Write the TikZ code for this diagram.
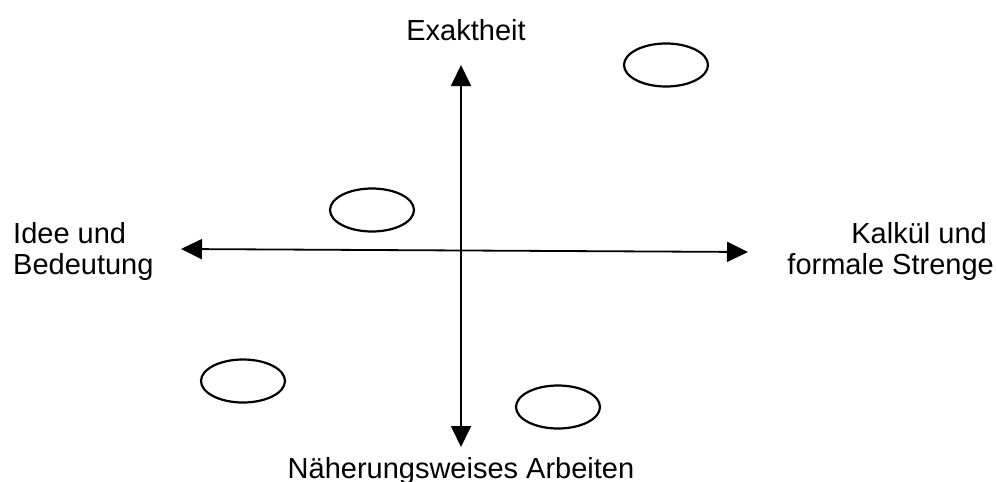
\documentclass[tikz,border=0pt]{standalone}
\usepackage{fontspec}
\setmainfont{Liberation Sans}
\usetikzlibrary{arrows.meta,shapes.geometric}
\begin{document}
\begin{tikzpicture}[x=1pt,y=-1pt,
  axis/.style={line width=1.8pt,{Triangle[length=21pt,width=20pt]}-{Triangle[length=21pt,width=20pt]}},
  oval/.style={draw,ellipse,line width=2.2pt,minimum width=84pt,minimum height=43pt,inner sep=0pt},
  lbl/.style={inner sep=0pt,font=\fontsize{29}{32}\selectfont}]
\useasboundingbox (0,0) rectangle (997,482);
\coordinate (top) at (461,65);
\coordinate (bot) at (461,447);
\coordinate (lft) at (181,249);
\coordinate (rgt) at (748,252);
\draw[axis] (top) -- (bot);
\draw[axis] (lft) -- (rgt);
\node[oval] (e1) at (666,65) {};
\node[oval] (e2) at (372,210) {};
\node[oval] (e3) at (243,381) {};
\node[oval] (e4) at (558,407) {};
\node[lbl,anchor=base] (exakt) at (466,40) {Exaktheit};
\node[lbl,anchor=base west] (idee1) at (13,243) {Idee und};
\node[lbl,anchor=base west] (idee2) at (13,274) {Bedeutung};
\node[lbl,anchor=base east] (kalk1) at (987,243) {Kalkül und};
\node[lbl,anchor=base east] (kalk2) at (994,274) {formale Strenge};
\node[lbl,anchor=base] (naeh) at (461,478) {Näherungsweises Arbeiten};
\end{tikzpicture}
\end{document}
